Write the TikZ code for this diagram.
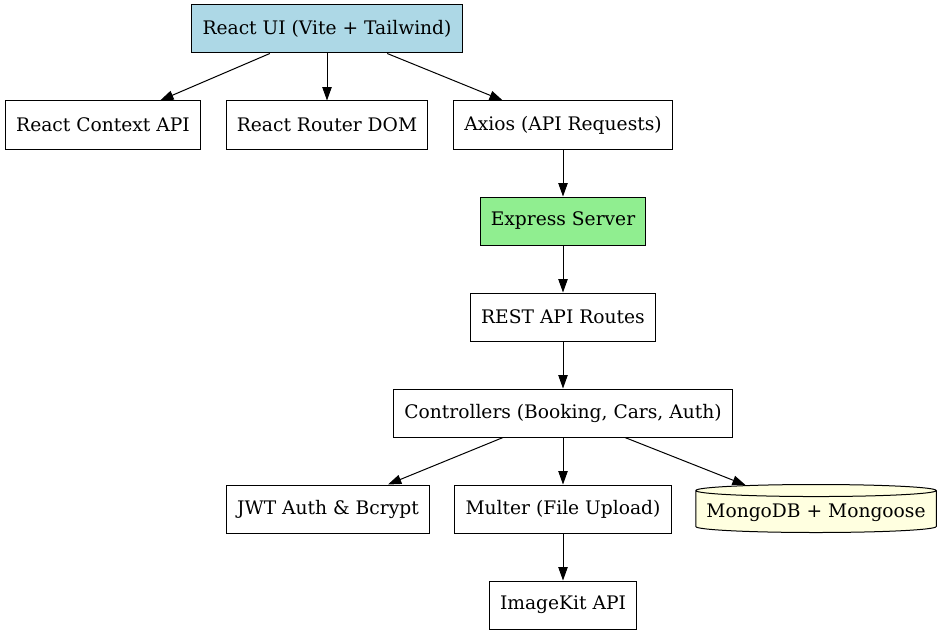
\documentclass[tikz,border=0pt]{standalone}
\usepackage{fontspec}
\setmainfont{DejaVu Serif}
\usetikzlibrary{arrows.meta,shapes.geometric}
\definecolor{uiblue}{HTML}{ADD8E6}
\definecolor{srvgreen}{HTML}{90EE90}
\definecolor{dbyellow}{HTML}{FFFFE0}

\begin{document}
\begin{tikzpicture}[x=0.75pt, y=-0.75pt,
		box/.style={draw, rectangle, line width=0.75pt, inner xsep=8pt, minimum height=36pt, font=\fontsize{14}{16}\selectfont},
		db/.style={box, cylinder, shape border rotate=90, aspect=0.05, fill=dbyellow},
		link/.style={line width=0.75pt, -{Triangle[length=10pt, width=7pt]}}]
	\useasboundingbox (0,0) rectangle (943,635);
	\node[box, fill=uiblue] (ui) at (327,29) {React UI (Vite + Tailwind)};
	\node[box] (ctx) at (103,125) {React Context API};
	\node[box] (router) at (327,125) {React Router DOM};
	\node[box] (axios) at (563,125) {Axios (API Requests)};
	\node[box, fill=srvgreen] (express) at (563,221) {Express Server};
	\node[box] (rest) at (563,317) {REST API Routes};
	\node[box] (ctrl) at (563,413) {Controllers (Booking, Cars, Auth)};
	\node[box] (jwt) at (328,509) {JWT Auth \& Bcrypt};
	\node[box] (multer) at (563,509) {Multer (File Upload)};
	\node[db] (mongo) at (816,513) {MongoDB + Mongoose};
	\node[box] (imgkit) at (563,605) {ImageKit API};
	\foreach \a/\b in {ui/ctx, ui/router, ui/axios, axios/express, express/rest, rest/ctrl, ctrl/jwt, ctrl/multer, ctrl/mongo, multer/imgkit}
		\draw[link] (\a) -- (\b);
\end{tikzpicture}
\end{document}
